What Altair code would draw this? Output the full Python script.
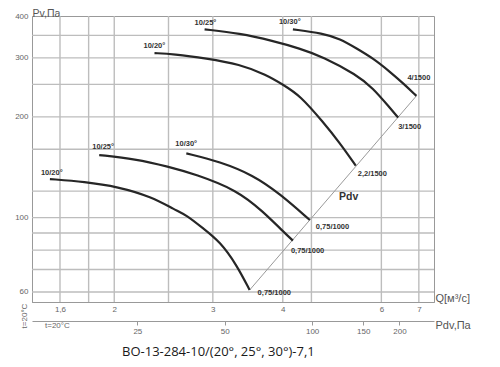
import math
import altair as alt
import pandas as pd

# ---- axis values ----
q_labels = [1.6, 2, 3, 4, 6, 7]
q_grid = [1.6, 1.8, 2, 2.5, 3, 4, 4.5, 6, 7]
pv_labels = [60, 100, 200, 300, 400]
pv_grid = [60, 70, 80, 90, 100, 120, 160, 200, 250, 300, 350]
pdv_ticks = [25, 50, 100, 150, 200]
q_domain = [1.426, 7.45]
pv_domain = [56, 400]
pdv_domain = [10.84, 263]

# ---- curves (Q m3/s, Pv Pa) ----
q_1500_20 = [2.36, 2.55, 2.92, 3.35, 3.74, 4.01, 4.29, 4.72, 5.06, 5.40]
pv_1500_20 = [310, 308, 299, 287, 267, 249, 232, 193, 167, 143]
q_1500_25 = [2.90, 3.35, 3.84, 4.29, 4.72, 5.42, 5.79, 6.21, 6.43]
pv_1500_25 = [365, 355, 337, 320, 302, 267, 244, 213, 199]
q_1500_30 = [4.17, 4.72, 5.06, 5.42, 5.80, 6.21, 6.56, 6.93]
pv_1500_30 = [365, 355, 342, 320, 299, 273, 252, 231]
q_1000_20 = [1.535, 1.77, 2.03, 2.33, 2.57, 2.69, 2.88, 3.09, 3.31, 3.49]
pv_1000_20 = [130.4, 128, 123.7, 115.5, 105.4, 101.9, 93, 84.8, 72.2, 60.8]
q_1000_25 = [1.88, 2.18, 2.50, 2.79, 3.31, 3.69, 4.01, 4.17]
pv_1000_25 = [153.8, 149.7, 142, 134.8, 121, 104.2, 90.8, 85.4]
q_1000_30 = [2.69, 3.09, 3.54, 3.95, 4.47]
pv_1000_30 = [155.6, 147, 134, 118, 98.4]

series = {
    "1500_20": (q_1500_20, pv_1500_20),
    "1500_25": (q_1500_25, pv_1500_25),
    "1500_30": (q_1500_30, pv_1500_30),
    "1000_20": (q_1000_20, pv_1000_20),
    "1000_25": (q_1000_25, pv_1000_25),
    "1000_30": (q_1000_30, pv_1000_30),
}

# label: text, series, dx, dy
start_labels = [
    ("10/20°", "1500_20", -11, -7),
    ("10/25°", "1500_25", -10, -6),
    ("10/30°", "1500_30", -14, -7),
    ("10/20°", "1000_20", -9, -6),
    ("10/25°", "1000_25", -7, -8),
    ("10/30°", "1000_30", -11, -9),
]
end_labels = [
    ("4/1500", "1500_30", -9, -18),
    ("3/1500", "1500_25", 0, 9),
    ("2,2/1500", "1500_20", 2, 8),
    ("0,75/1000", "1000_30", 6, 7),
    ("0,75/1000", "1000_25", -2, 10),
    ("0,75/1000", "1000_20", 8, 3),
]

rows = []
for name, (qs, pvs) in series.items():
    for i, (q, pv) in enumerate(zip(qs, pvs)):
        rows.append({"s": name, "i": i, "q": q, "pv": pv})
df = pd.DataFrame(rows)

W, H = 402, 286
GRID = "#bdbdbd"
xscale = alt.Scale(type="log", domain=q_domain, nice=False)
yscale = alt.Scale(type="log", domain=pv_domain, nice=False)

x_axis = alt.Axis(
    values=q_labels, format=".2~f", grid=False, ticks=False,
    labelExpr="replace(datum.label, '.', ',')",
    labelPadding=3, labelFontSize=8, labelColor="#666",
    title="Q[м³/с]", titleX=W + 1, titleY=-4, titleAlign="left", titleBaseline="middle",
    titleFontSize=11, titleFontWeight="normal", titleColor="#555",
    domainColor="#999",
)
y_axis = alt.Axis(
    values=pv_labels, format="d", grid=False, ticks=False,
    labelPadding=4, labelFontSize=8, labelColor="#666",
    title="Pv,Па", titleX=0, titleY=0, titleAngle=0, titleAlign="left", titleBaseline="alphabetic",
    titleFontSize=10.5, titleFontWeight="normal", titleColor="#555",
    domainColor="#999",
)


def X(field="q"):
    return alt.X(f"{field}:Q", scale=xscale, axis=x_axis)


def Y(field="pv"):
    return alt.Y(f"{field}:Q", scale=yscale, axis=y_axis)


# grid lines: each drawn as a two-point line spanning the scale domain
vrows = []
for v in q_grid:
    vrows.append({"g": v, "q": v, "pv": pv_domain[0]})
    vrows.append({"g": v, "q": v, "pv": pv_domain[1]})
hrows = []
for v in pv_grid:
    hrows.append({"g": v, "q": q_domain[0], "pv": v})
    hrows.append({"g": v, "q": q_domain[1], "pv": v})
vgrid = alt.Chart(pd.DataFrame(vrows)).mark_line(color=GRID, strokeWidth=1.4).encode(
    x=X(), y=Y(), detail="g:N"
)
hgrid = alt.Chart(pd.DataFrame(hrows)).mark_line(color=GRID, strokeWidth=1.4).encode(
    x=X(), y=Y(), detail="g:N"
)

lines = alt.Chart(df).mark_line(color="#262626", strokeWidth=2.2, interpolate="basis").encode(
    x=X(), y=Y(), detail="s:N", order="i:Q"
)

# system line through the curve end points
diag_df = pd.DataFrame({
    "q": [q_1000_20[-1], q_1500_30[-1]],
    "pv": [pv_1000_20[-1], pv_1500_30[-1]],
})
diag = alt.Chart(diag_df).mark_line(color="#9a9a9a", strokeWidth=1).encode(x=X(), y=Y())

layers = [vgrid, hgrid, diag, lines]
label_style = dict(align="left", baseline="middle", fontSize=7.5, fontWeight="bold",
                   color="#333", font="Liberation Sans")
for text, s, dx, dy in start_labels:
    qs, pvs = series[s]
    d = pd.DataFrame({"q": [qs[0]], "pv": [pvs[0]], "t": [text]})
    layers.append(alt.Chart(d).mark_text(dx=dx, dy=dy, **label_style).encode(x=X(), y=Y(), text="t:N"))
for text, s, dx, dy in end_labels:
    qs, pvs = series[s]
    d = pd.DataFrame({"q": [qs[-1]], "pv": [pvs[-1]], "t": [text]})
    layers.append(alt.Chart(d).mark_text(dx=dx, dy=dy, **label_style).encode(x=X(), y=Y(), text="t:N"))

# "Pdv" label at geometric middle of the system line
mid = pd.DataFrame({
    "q": [math.sqrt(diag_df.q[0] * diag_df.q[1])],
    "pv": [math.sqrt(diag_df.pv[0] * diag_df.pv[1])],
    "t": ["Pdv"],
})
layers.append(
    alt.Chart(mid).mark_text(align="left", baseline="middle", dx=6, dy=4, fontSize=10.5,
                             fontWeight="bold", color="#333", font="Liberation Sans")
    .encode(x=X(), y=Y(), text="t:N")
)

# t=20°C annotations
layers.append(
    alt.Chart(pd.DataFrame({"t": ["t=20°C"]})).mark_text(
        angle=270, align="center", baseline="middle", fontSize=8, color="#666", font="Liberation Sans"
    ).encode(x=alt.value(-7), y=alt.value(300), text="t:N")
)
layers.append(
    alt.Chart(pd.DataFrame({"t": ["t=20°C"]})).mark_text(
        align="left", baseline="middle", fontSize=8, color="#666", font="Liberation Sans"
    ).encode(x=alt.value(13), y=alt.value(310), text="t:N")
)

main = alt.layer(*layers)

pdv_layer = alt.Chart(pd.DataFrame({"pdv": pdv_ticks})).mark_point(opacity=0).encode(
    x=alt.X(
        "pdv:Q",
        scale=alt.Scale(type="log", domain=pdv_domain, nice=False),
        axis=alt.Axis(
            orient="bottom", offset=19, values=pdv_ticks, grid=False, format="d",
            tickSize=4, tickColor="#999", domainColor="#999",
            labelPadding=2, labelFontSize=8, labelColor="#666",
            title="Pdv,Па", titleX=W + 1, titleY=4, titleAlign="left", titleBaseline="middle",
            titleFontSize=11, titleFontWeight="normal", titleColor="#555",
        ),
    )
)

chart = (
    alt.layer(main, pdv_layer)
    .resolve_scale(x="independent")
    .properties(
        width=W,
        height=H,
        autosize="none",
        padding={"left": 24, "top": 8, "right": 58, "bottom": 57},
        title=alt.TitleParams(
            "ВО-13-284-10/(20°, 25°, 30°)-7,1",
            orient="bottom", anchor="start", frame="group", dx=90, offset=11,
            fontSize=13, fontWeight="normal", color="#1a1a1a", font="Open Sans",
        ),
    )
    .configure(font="Liberation Sans")
    .configure_view(stroke="#999", strokeWidth=1)
)

chart.save("out.html", embed_options={"renderer": "svg", "actions": False})
